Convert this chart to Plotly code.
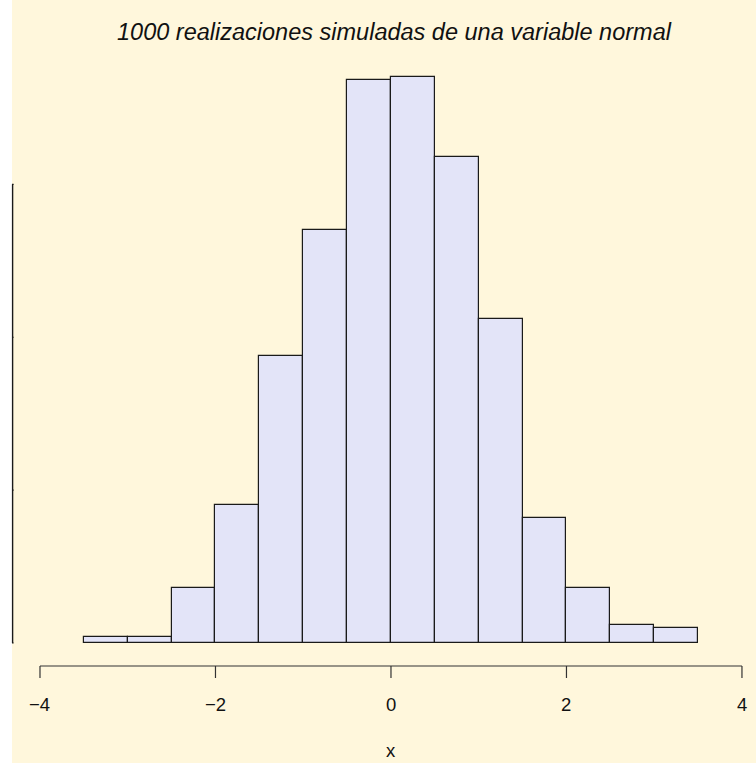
import plotly.graph_objects as go

# Histogram of 1000 simulated N(0,1) draws, bins of width 0.5
bin_edges = [-3.5, -3.0, -2.5, -2.0, -1.5, -1.0, -0.5, 0.0, 0.5, 1.0, 1.5, 2.0, 2.5, 3.0, 3.5]
counts = [2, 2, 18, 45, 94, 135, 184, 185, 159, 106, 41, 18, 6, 5]

x_ticks = [-4, -2, 0, 2, 4]
x_tick_labels = ["\u22124", "\u22122", "0", "2", "4"]
y_ticks = [0, 50, 100, 150]

title_text = "1000 realizaciones simuladas de una variable normal"
x_label = "x"

BG = "#FFF7DC"
BAR = "#E3E4F8"
INK = "#1a1a1a"
FONT = "Liberation Sans, Arial, Helvetica, sans-serif"

centers = [(a + b) / 2 for a, b in zip(bin_edges[:-1], bin_edges[1:])]
widths = [b - a for a, b in zip(bin_edges[:-1], bin_edges[1:])]

fig = go.Figure(
    go.Bar(
        x=centers,
        y=counts,
        width=widths,
        marker=dict(color=BAR, line=dict(color=INK, width=1.2)),
        hoverinfo="x+y",
    )
)

shapes = []
# x axis: line from first to last tick, ticks pointing down (offsets in px below zero)
shapes.append(dict(type="line", xref="x", yref="y", ysizemode="pixel", yanchor=0,
                   x0=x_ticks[0], x1=x_ticks[-1], y0=-23, y1=-23,
                   line=dict(color="#333", width=1.2)))
for t in x_ticks:
    shapes.append(dict(type="line", xref="x", yref="y", ysizemode="pixel", yanchor=0,
                       x0=t, x1=t, y0=-23, y1=-35, line=dict(color="#333", width=1.2)))
# y axis: line from first to last tick at the left edge of the plot
shapes.append(dict(type="line", xref="paper", yref="y", xsizemode="pixel", xanchor=0,
                   x0=0.6, x1=0.6, y0=y_ticks[0], y1=y_ticks[-1],
                   line=dict(color=INK, width=1.4)))
for t in y_ticks:
    shapes.append(dict(type="line", xref="paper", yref="y", xsizemode="pixel", xanchor=0,
                       x0=0, x1=1.6, y0=t, y1=t, line=dict(color=INK, width=1.2)))

annotations = []
for t, lab in zip(x_ticks, x_tick_labels):
    annotations.append(dict(x=t, y=0, xref="x", yref="y", text=lab, showarrow=False,
                            yshift=-61, font=dict(family=FONT, size=18.5, color="#111")))
annotations.append(dict(x=0, y=0, xref="x", yref="y", text=x_label, showarrow=False,
                        yshift=-107, font=dict(family=FONT, size=18.5, color="#111")))

fig.update_layout(
    width=756,
    height=763,
    margin=dict(l=12, r=0, t=0, b=0),
    paper_bgcolor="white",
    plot_bgcolor=BG,
    showlegend=False,
    bargap=0,
    xaxis=dict(range=[-4.319, 4.160], visible=False, fixedrange=True),
    yaxis=dict(range=[-39.24, 210.3], visible=False, fixedrange=True),
    shapes=shapes,
    annotations=annotations,
    title=dict(text="<i>" + title_text + "</i>", x=394 / 756, xanchor="center",
               y=1 - 32 / 763, yanchor="middle",
               font=dict(family=FONT, size=23.5, color="#111")),
)

fig.write_html("out.html")
